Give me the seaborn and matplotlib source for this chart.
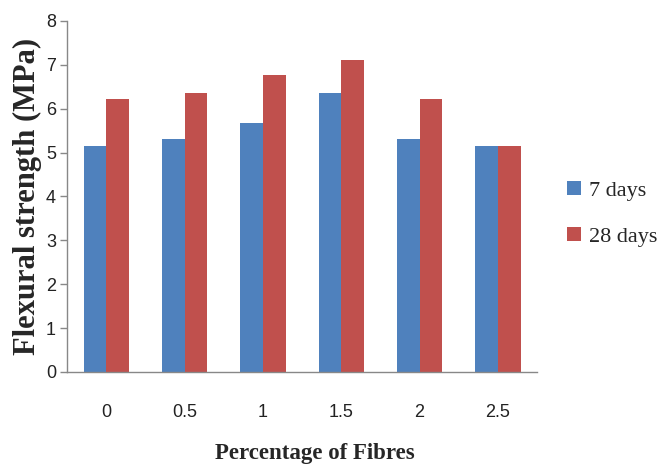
import matplotlib
matplotlib.use("Agg")
import matplotlib.pyplot as plt
import seaborn as sns
import pandas as pd

# Flexural strength by fibre content at two curing ages
fibres = ["0", "0.5", "1", "1.5", "2", "2.5"]
days_7 = [5.15, 5.3, 5.68, 6.36, 5.3, 5.15]
days_28 = [6.22, 6.36, 6.76, 7.1, 6.22, 5.15]
series = ["7 days", "28 days"]
y_ticks = [0, 1, 2, 3, 4, 5, 6, 7, 8]

df = pd.DataFrame({
    "fibre": fibres * 2,
    "strength": days_7 + days_28,
    "age": [series[0]] * len(fibres) + [series[1]] * len(fibres),
})

sns.set_theme(style="white")
plt.rcParams["font.family"] = ["Liberation Sans", "DejaVu Sans"]

fig = plt.figure(figsize=(6.59, 4.66), dpi=100)
ax = fig.add_axes([0.102, 0.202, 0.713, 0.753])

sns.barplot(data=df, x="fibre", y="strength", hue="age", order=fibres,
            hue_order=series, palette=["#4F81BD", "#C0504D"],
            width=0.58, saturation=1, linewidth=0, ax=ax, legend=True)

ax.set_ylim(0, 8)
ax.set_yticks(y_ticks)
ax.set_xlim(-0.5, len(fibres) - 0.5)

axis_color = "#888888"
for side in ["top", "right"]:
    ax.spines[side].set_visible(False)
for side in ["left", "bottom"]:
    ax.spines[side].set_color(axis_color)
    ax.spines[side].set_linewidth(1.0)

ax.tick_params(axis="y", which="both", left=True, length=5, width=1,
               color=axis_color, labelsize=13, labelcolor="#222222", pad=3)
ax.tick_params(axis="x", bottom=False, labelsize=13, labelcolor="#222222", pad=17)

ax.set_ylabel("Flexural strength (MPa)", family="Liberation Serif",
              fontweight="bold", fontsize=22, labelpad=3)
ax.set_xlabel("Percentage of Fibres", family="Liberation Serif",
              fontweight="bold", fontsize=16.5, labelpad=16, x=0.526)

leg = ax.legend(loc="center left", bbox_to_anchor=(1.022, 0.45), frameon=False,
                prop={"family": "Liberation Serif", "size": 16},
                handlelength=0.6, handleheight=0.6, handletextpad=0.35,
                labelspacing=1.2)

fig.savefig("out.png", dpi=100)
